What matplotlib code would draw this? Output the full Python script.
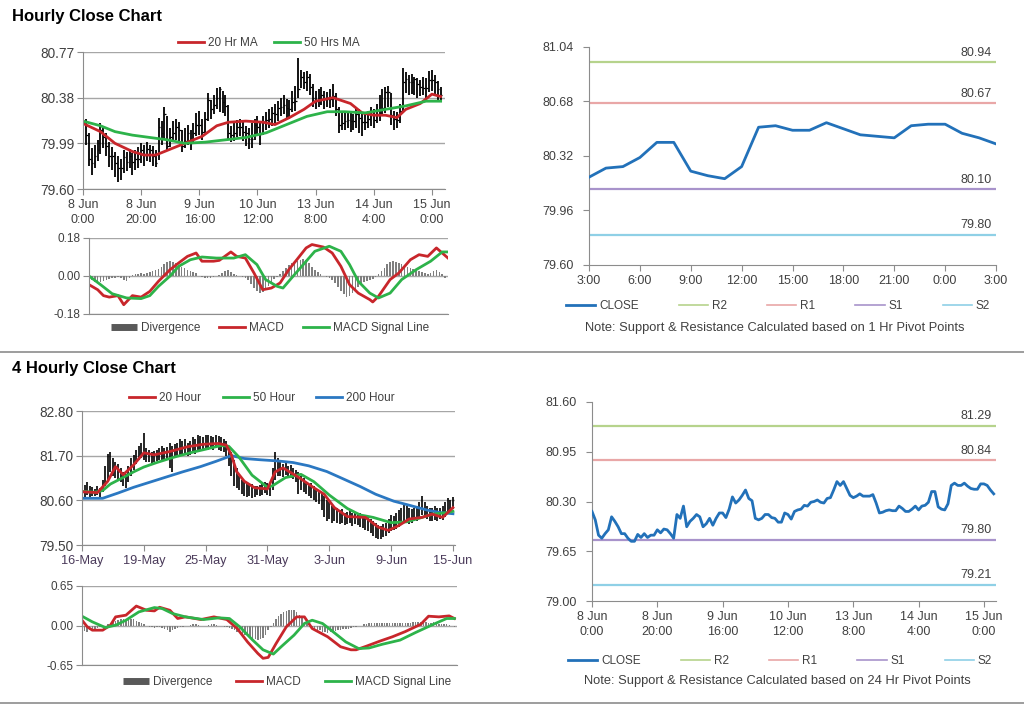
import matplotlib
matplotlib.use('Agg')
import matplotlib.pyplot as plt
from matplotlib.lines import Line2D
from matplotlib.ticker import FormatStrFormatter

plt.rcParams['font.family'] = ['Liberation Sans', 'DejaVu Sans']

# ---- hourly data (8 Jun 0:00 -> 15 Jun 3:00), one value per hour ----
hr_close = [80.17, 80.06, 79.86, 79.82, 79.88, 79.93, 80.10, 80.04, 79.97, 79.88,
            79.88, 79.82, 79.78, 79.78, 79.87, 79.83, 79.88, 79.83, 79.86, 79.86,
            79.93, 79.89, 79.94, 79.93, 79.88, 79.82, 80.13, 80.08, 80.24, 79.97,
            80.04, 80.08, 80.13, 80.10, 79.97, 80.01, 80.08, 79.99, 80.08, 80.15,
            80.15, 80.09, 80.20, 80.36, 80.28, 80.32, 80.38, 80.45, 80.34, 80.31,
            80.08, 80.06, 80.08, 80.13, 80.13, 80.09, 80.08, 80.03, 80.03, 80.15,
            80.13, 80.07, 80.17, 80.19, 80.20, 80.25, 80.24, 80.29, 80.30, 80.32,
            80.29, 80.28, 80.34, 80.35, 80.45, 80.56, 80.51, 80.56, 80.47, 80.38,
            80.35, 80.37, 80.40, 80.37, 80.37, 80.37, 80.39, 80.28, 80.15, 80.16,
            80.18, 80.19, 80.18, 80.18, 80.24, 80.21, 80.17, 80.17, 80.20, 80.24,
            80.19, 80.24, 80.25, 80.29, 80.43, 80.43, 80.23, 80.20, 80.19, 80.27,
            80.51, 80.54, 80.51, 80.51, 80.54, 80.50, 80.47, 80.46, 80.46, 80.53,
            80.53, 80.51, 80.45, 80.40]
hr_high = [80.29, 80.20, 80.08, 79.95, 79.98, 80.02, 80.16, 80.13, 80.08, 80.00,
           79.96, 79.92, 79.88, 79.86, 79.93, 79.92, 79.94, 79.91, 79.93, 79.96,
           79.99, 79.98, 80.00, 79.98, 79.97, 79.93, 80.21, 80.18, 80.30, 80.22,
           80.12, 80.18, 80.20, 80.17, 80.10, 80.12, 80.15, 80.10, 80.16, 80.25,
           80.27, 80.20, 80.26, 80.42, 80.36, 80.40, 80.46, 80.47, 80.44, 80.40,
           80.32, 80.14, 80.16, 80.19, 80.20, 80.17, 80.14, 80.12, 80.16, 80.20,
           80.22, 80.16, 80.22, 80.26, 80.28, 80.30, 80.33, 80.35, 80.38, 80.40,
           80.37, 80.36, 80.44, 80.48, 80.72, 80.62, 80.60, 80.61, 80.58, 80.50,
           80.44, 80.45, 80.47, 80.44, 80.43, 80.45, 80.50, 80.42, 80.30, 80.25,
           80.26, 80.27, 80.26, 80.24, 80.29, 80.28, 80.24, 80.25, 80.27, 80.30,
           80.28, 80.33, 80.40, 80.45, 80.47, 80.48, 80.42, 80.27, 80.26, 80.33,
           80.63, 80.60, 80.57, 80.58, 80.56, 80.55, 80.53, 80.56, 80.55, 80.61,
           80.62, 80.57, 80.52, 80.47]
hr_low = [80.09, 79.98, 79.80, 79.72, 79.78, 79.84, 79.90, 79.95, 79.88, 79.79,
          79.76, 79.70, 79.66, 79.68, 79.74, 79.75, 79.78, 79.72, 79.76, 79.78,
          79.82, 79.80, 79.84, 79.83, 79.80, 79.79, 79.85, 79.98, 80.02, 79.93,
          79.96, 80.00, 80.02, 80.00, 79.92, 79.95, 79.98, 79.93, 80.00, 80.05,
          80.06, 80.02, 80.08, 80.18, 80.20, 80.24, 80.28, 80.26, 80.25, 80.22,
          80.03, 80.00, 80.01, 80.04, 80.05, 80.01, 79.97, 79.94, 79.95, 80.02,
          80.05, 79.98, 80.06, 80.10, 80.12, 80.14, 80.16, 80.18, 80.22, 80.24,
          80.20, 80.20, 80.26, 80.27, 80.38, 80.46, 80.45, 80.44, 80.40, 80.30,
          80.28, 80.30, 80.32, 80.28, 80.30, 80.29, 80.30, 80.22, 80.08, 80.10,
          80.10, 80.12, 80.09, 80.10, 80.12, 80.08, 80.05, 80.10, 80.12, 80.14,
          80.12, 80.16, 80.18, 80.22, 80.25, 80.30, 80.15, 80.10, 80.12, 80.16,
          80.25, 80.42, 80.40, 80.41, 80.40, 80.38, 80.39, 80.40, 80.37, 80.43,
          80.44, 80.40, 80.36, 80.34]
hr_x_ticks = ['8 Jun\n0:00', '8 Jun\n20:00', '9 Jun\n16:00', '10 Jun\n12:00',
              '13 Jun\n8:00', '14 Jun\n4:00', '15 Jun\n0:00']

hr_ma20_x = [0, 6, 11, 17, 21, 25, 30, 35, 41, 46, 50, 56, 62, 66, 71, 76, 80, 86,
             92, 96, 100, 104, 108, 111, 116, 120, 123]
hr_ma20 = [80.16, 80.09, 79.99, 79.92, 79.89, 79.89, 79.94, 79.99, 80.05, 80.14,
           80.17, 80.18, 80.17, 80.15, 80.21, 80.28, 80.35, 80.38, 80.33, 80.25,
           80.23, 80.23, 80.21, 80.28, 80.33, 80.41, 80.39]
hr_ma50_x = [0, 6, 11, 17, 23, 29, 35, 42, 49, 56, 63, 70, 77, 84, 90, 97, 104,
             111, 118, 123]
hr_ma50 = [80.18, 80.14, 80.09, 80.06, 80.04, 80.02, 79.99, 80.00, 80.02, 80.04,
           80.08, 80.15, 80.22, 80.26, 80.26, 80.25, 80.28, 80.31, 80.35, 80.35]

hr_macd_x = [0, 3, 5, 7, 10, 12, 15, 18, 21, 24, 28, 31, 34, 37, 39, 43, 45, 49,
             51, 54, 57, 60, 63, 66, 69, 72, 75, 77, 81, 84, 87, 90, 93, 97, 98,
             100, 104, 107, 111, 114, 117, 120, 122, 124]
hr_macd = [-0.041, -0.065, -0.093, -0.10, -0.093, -0.136, -0.093, -0.10, -0.073,
           -0.025, 0.030, 0.062, 0.093, 0.109, 0.07, 0.07, 0.074, 0.114, 0.093,
           0.085, 0.014, -0.065, -0.057, -0.033, 0.030, 0.081, 0.133, 0.149,
           0.137, 0.109, 0.046, -0.041, -0.081, -0.112, -0.123, -0.096, -0.017,
           0.014, 0.077, 0.101, 0.093, 0.133, 0.109, 0.085]
hr_signal_x = [0, 4, 8, 13, 18, 21, 24, 28, 31, 35, 39, 44, 50, 54, 58, 61, 65, 67,
               70, 74, 78, 83, 87, 90, 93, 97, 100, 104, 108, 113, 118, 122, 124]
hr_signal = [0.0, -0.041, -0.084, -0.104, -0.107, -0.093, -0.049, 0.0, 0.046,
             0.077, 0.09, 0.085, 0.085, 0.101, 0.054, -0.017, -0.049, -0.057,
             -0.009, 0.054, 0.117, 0.141, 0.117, 0.054, -0.025, -0.081, -0.104,
             -0.081, -0.017, 0.030, 0.070, 0.114, 0.114]
hr_div = [-0.01, -0.02, -0.03, -0.03, -0.03, -0.025, -0.02, -0.015,
          -0.01, -0.01, -0.005, -0.01, -0.02, -0.025, -0.01,
          0.005, 0.01, 0.01, 0.015, 0.01, 0.015, 0.02,
          0.025, 0.03, 0.035, 0.045, 0.055, 0.065, 0.07, 0.065,
          0.06, 0.05, 0.045, 0.04, 0.03, 0.025, 0.02, 0.015,
          0.0, -0.005, -0.01, -0.01, -0.008, -0.005, 0.0, 0.005,
          0.015, 0.025, 0.03, 0.02, 0.01, 0.005, 0.0, -0.005,
          -0.01, -0.02, -0.04, -0.055, -0.07, -0.08, -0.075, -0.06,
          -0.045, -0.03, -0.015, -0.005, 0.01, 0.025,
          0.04, 0.05, 0.06, 0.065, 0.07, 0.075, 0.08, 0.075,
          0.06, 0.045, 0.03, 0.02, 0.01, 0.0, -0.005, -0.01,
          -0.02, -0.035, -0.05, -0.07, -0.085, -0.1, -0.095, -0.08,
          -0.065, -0.05, -0.04, -0.03, -0.025, -0.02, -0.015, -0.005,
          0.01, 0.025, 0.04, 0.055, 0.065, 0.07, 0.065, 0.06,
          0.055, 0.05, 0.045, 0.04, 0.035, 0.03, 0.025, 0.02,
          0.015, 0.01, 0.015, 0.025, 0.03, 0.02, 0.01, -0.01]

# ---- last 24 hours close with 1 Hr pivots ----
p1_labels = ['3:00', '6:00', '9:00', '12:00', '15:00', '18:00', '21:00', '0:00', '3:00']
p1_close = [80.18, 80.24, 80.25, 80.31, 80.41, 80.41, 80.22, 80.19, 80.17, 80.25,
            80.51, 80.52, 80.49, 80.49, 80.54, 80.50, 80.46, 80.45, 80.44, 80.52,
            80.53, 80.53, 80.47, 80.44, 80.40]
p1_levels = {'R2': 80.94, 'R1': 80.67, 'S1': 80.10, 'S2': 79.80}
p24_levels = {'R2': 81.29, 'R1': 80.84, 'S1': 79.80, 'S2': 79.21}

# ---- 4 hourly data (16 May -> 15 Jun), one value per bar ----
h4_high = [81.00, 80.98, 81.05, 80.95, 80.92, 80.88, 80.95, 80.90, 81.10, 81.45,
           81.75, 81.80, 81.65, 81.55, 81.50, 81.40, 81.30, 81.25, 81.45, 81.65,
           81.72, 81.85, 81.95, 82.00, 82.25, 81.88, 81.85, 81.80, 81.82, 81.85,
           81.88, 81.95, 81.90, 81.92, 82.00, 81.95, 81.98, 82.00, 82.10, 82.05,
           82.12, 82.00, 82.05, 82.15, 82.10, 82.20, 82.18, 82.15, 82.22, 82.20,
           82.18, 82.15, 82.20, 82.18, 82.15, 82.10, 82.05, 81.95, 81.80, 81.60,
           81.40, 81.20, 81.10, 81.05, 81.00, 80.98, 81.00, 80.95, 80.95, 80.98,
           81.00, 81.05, 81.02, 80.95, 81.40, 81.80, 81.65, 81.55, 81.50, 81.52,
           81.45, 81.48, 81.40, 81.35, 81.30, 81.20, 81.15, 81.05, 81.00, 81.02,
           80.95, 80.90, 80.85, 80.75, 80.70, 80.60, 80.55, 80.45, 80.40, 80.42,
           80.35, 80.38, 80.30, 80.32, 80.35, 80.30, 80.32, 80.28, 80.30, 80.25,
           80.22, 80.18, 80.15, 80.10, 80.05, 80.00, 79.98, 80.02, 80.05, 80.15,
           80.25, 80.22, 80.30, 80.35, 80.40, 80.48, 80.45, 80.40, 80.38, 80.42,
           80.45, 80.55, 80.70, 80.55, 80.45, 80.40, 80.42, 80.45, 80.40, 80.42,
           80.45, 80.55, 80.65, 80.60, 80.68]
h4_low = [80.70, 80.66, 80.72, 80.68, 80.70, 80.70, 80.72, 80.69, 80.80, 80.95,
          81.10, 81.30, 81.20, 81.15, 81.10, 81.05, 80.95, 80.90, 81.05, 81.20,
          81.35, 81.50, 81.60, 81.65, 81.60, 81.55, 81.55, 81.52, 81.55, 81.58,
          81.60, 81.55, 81.60, 81.62, 81.40, 81.30, 81.65, 81.70, 81.72, 81.70,
          81.75, 81.68, 81.72, 81.78, 81.75, 81.85, 81.85, 81.82, 81.88, 81.85,
          81.88, 81.85, 81.90, 81.85, 81.82, 81.80, 81.70, 81.45, 81.20, 80.95,
          80.90, 80.85, 80.75, 80.70, 80.68, 80.70, 80.65, 80.68, 80.72, 80.70,
          80.72, 80.78, 80.72, 80.70, 80.85, 81.10, 81.20, 81.20, 81.18, 81.22,
          81.20, 81.15, 81.12, 81.05, 80.75, 80.85, 80.80, 80.75, 80.70, 80.65,
          80.60, 80.55, 80.50, 80.35, 80.20, 80.10, 80.15, 80.05, 80.08, 80.05,
          80.02, 80.05, 80.00, 80.02, 80.05, 79.98, 80.02, 80.00, 79.95, 79.92,
          79.88, 79.85, 79.80, 79.72, 79.68, 79.66, 79.65, 79.70, 79.72, 79.80,
          79.85, 79.88, 79.90, 79.95, 80.00, 80.05, 80.05, 80.02, 80.05, 80.08,
          80.10, 80.15, 80.25, 80.20, 80.15, 80.10, 80.08, 80.12, 80.10, 80.15,
          80.12, 80.20, 80.30, 80.35, 80.38]
h4_x_ticks = ['16-May', '19-May', '25-May', '31-May', '3-Jun', '9-Jun', '15-Jun']

h4_ma20_x = [0, 6, 10, 13, 16, 20, 24, 28, 34, 41, 47, 53, 56, 58, 60, 63, 67, 72,
             75, 78, 84, 90, 94, 98, 103, 110, 115, 119, 123, 127, 132, 136, 140, 144]
h4_ma20 = [80.81, 80.79, 81.07, 81.43, 81.23, 81.47, 81.77, 81.72, 81.80, 81.92,
           81.98, 82.00, 81.96, 81.72, 81.31, 81.07, 80.91, 80.88, 81.30, 81.40,
           81.17, 80.91, 80.75, 80.42, 80.20, 80.18, 79.94, 79.86, 79.98, 80.14,
           80.18, 80.26, 80.18, 80.42]
h4_ma50_x = [0, 5, 8, 11, 15, 20, 24, 29, 35, 42, 48, 54, 57, 61, 66, 72, 74, 79,
             85, 90, 96, 103, 108, 113, 120, 126, 131, 136, 142, 144]
h4_ma50 = [80.82, 80.80, 80.84, 81.00, 81.13, 81.30, 81.42, 81.53, 81.65, 81.77,
           81.86, 81.95, 81.93, 81.66, 81.22, 80.92, 80.96, 81.16, 81.24, 81.06,
           80.73, 80.40, 80.24, 80.18, 80.05, 80.07, 80.16, 80.26, 80.30, 80.33]
h4_ma200_x = [0, 8, 14, 20, 26, 33, 39, 46, 52, 58, 63, 69, 76, 82, 88, 95, 101,
              108, 114, 121, 127, 134, 139, 144]
h4_ma200 = [80.65, 80.65, 80.78, 80.92, 81.04, 81.18, 81.30, 81.43, 81.56, 81.70,
            81.63, 81.60, 81.57, 81.53, 81.45, 81.31, 81.14, 80.94, 80.75, 80.58,
            80.48, 80.36, 80.30, 80.27]

h4_macd_x = [0, 2, 4, 8, 11, 13, 17, 21, 25, 28, 30, 34, 37, 40, 46, 51, 56, 60,
             64, 68, 70, 72, 75, 79, 83, 86, 89, 95, 100, 104, 106, 110, 115, 120,
             125, 131, 134, 138, 142, 144]
h4_macd = [0.087, -0.02, -0.077, -0.077, 0.005, 0.142, 0.17, 0.32, 0.25, 0.24,
           0.30, 0.25, 0.115, 0.142, 0.098, 0.142, 0.098, -0.049, -0.27, -0.46,
           -0.54, -0.525, -0.30, -0.022, 0.142, 0.142, -0.049, -0.186, -0.35,
           -0.40, -0.40, -0.34, -0.26, -0.186, -0.10, 0.02, 0.153, 0.142, 0.158,
           0.115]
h4_signal_x = [0, 4, 9, 13, 17, 22, 28, 31, 35, 40, 47, 53, 57, 61, 66, 70, 74,
               77, 82, 86, 89, 93, 97, 102, 107, 111, 116, 123, 129, 136, 141, 144]
h4_signal = [0.153, 0.06, -0.033, 0.005, 0.087, 0.224, 0.295, 0.279, 0.197, 0.142,
             0.098, 0.126, 0.115, -0.022, -0.24, -0.40, -0.47, -0.35, -0.158,
             0.033, 0.087, 0.033, -0.10, -0.27, -0.38, -0.37, -0.31, -0.24,
             -0.115, 0.022, 0.115, 0.115]
h4_div = [-0.06, -0.09, -0.1, -0.08, -0.06, -0.05, -0.04, -0.03,
          -0.02, 0.0, 0.02, 0.04, 0.06, 0.08, 0.09, 0.1,
          0.1, 0.09, 0.1, 0.11, 0.1, 0.08, 0.06, 0.04,
          0.02, 0.0, -0.02, -0.03, -0.04, -0.03, -0.02, -0.04,
          -0.06, -0.08, -0.1, -0.08, -0.06, -0.04, -0.03, -0.02,
          -0.01, 0.0, 0.01, 0.02, 0.02, 0.01, 0.0, -0.01,
          0.0, 0.01, 0.02, 0.02, 0.01, 0.0, -0.01, -0.02,
          -0.02, -0.04, -0.06, -0.08, -0.1, -0.12, -0.14, -0.16,
          -0.18, -0.2, -0.22, -0.23, -0.24, -0.23, -0.2, -0.15,
          -0.08, -0.02, 0.04, 0.1, 0.15, 0.19, 0.22, 0.24,
          0.25, 0.26, 0.25, 0.22, 0.18, 0.12, 0.06, 0.02,
          -0.01, -0.03, -0.05, -0.07, -0.08, -0.1, -0.11, -0.12,
          -0.11, -0.1, -0.09, -0.08, -0.07, -0.06, -0.06, -0.05,
          -0.04, -0.03, -0.02, -0.01, 0.0, 0.02, 0.03, 0.04,
          0.04, 0.04, 0.04, 0.04, 0.04, 0.04, 0.04, 0.04,
          0.04, 0.04, 0.04, 0.04, 0.04, 0.04, 0.04, 0.04,
          0.05, 0.05, 0.05, 0.06, 0.06, 0.05, 0.04, 0.04,
          0.05, 0.04, 0.03, 0.03, 0.02, 0.02, 0.01, 0.0,
          -0.02]

RED = '#C8262B'
GREEN = '#2DB34A'
BLUE = '#2B78C2'
CLOSE_C = '#2271B9'
GRID = '#A6A6A6'
AXC = '#8C8C8C'
TXT = '#404040'
LEVEL_C = {'R2': '#B6D38C', 'R1': '#E9A7A7', 'S1': '#A893CB', 'S2': '#8FD0E6'}
FS = 8.5

fig = plt.figure(figsize=(10.24, 7.06), dpi=100)


def box(x0, y0, x1, y1):
    return [x0 / 1024, 1 - y1 / 706, (x1 - x0) / 1024, (y1 - y0) / 706]


def fpos(x, y):
    return (x / 1024, 1 - y / 706)


def style(ax, ysize=FS, xsize=FS):
    for s in ['top', 'right']:
        ax.spines[s].set_visible(False)
    ax.spines['left'].set_color(AXC)
    ax.spines['bottom'].set_color(AXC)
    ax.tick_params(colors=AXC, labelcolor=TXT, length=4)
    ax.tick_params(axis='y', labelsize=ysize, pad=2)
    ax.tick_params(axis='x', labelsize=xsize)
    ax.yaxis.grid(True, color=GRID, lw=1)
    ax.set_axisbelow(True)
    ax.yaxis.set_major_formatter(FormatStrFormatter('%.2f'))


def legend(handles, x, y, colsp=1.5):
    fig.legend(handles=handles, loc='center', bbox_to_anchor=fpos(x, y), ncol=len(handles),
               frameon=False, fontsize=FS, handlelength=2.2, handletextpad=0.35,
               columnspacing=colsp, labelcolor=TXT)


def div_handle():
    return Line2D([], [], color='#595959', lw=5, solid_capstyle='butt', label='Divergence')


# titles and separators
fig.text(12 / 1024, 1 - 16 / 706, 'Hourly Close Chart', fontsize=12, fontweight='bold', va='center')
fig.text(12 / 1024, 1 - 369 / 706, '4 Hourly Close Chart', fontsize=12, fontweight='bold', va='center')
for y in (352, 703):
    fig.add_artist(Line2D([0, 1], [1 - y / 706] * 2, transform=fig.transFigure, color='#8C8C8C', lw=1.2))

# ---- hourly bars with MAs ----
hours = list(range(len(hr_close)))
ax = fig.add_axes(box(83, 52, 445, 189))
style(ax, 9.8, 9)
ax.vlines(hours, hr_low, hr_high, color='black', lw=1.3)
ax.hlines(hr_close, hours, [h + 0.6 for h in hours], color='black', lw=0.9)
ax.plot(hr_ma20_x, hr_ma20, color=RED, lw=2)
ax.plot(hr_ma50_x, hr_ma50, color=GREEN, lw=2)
ax.set_xlim(0, 124.5)
ax.set_ylim(79.60, 80.77)
ax.set_yticks([79.60, 79.99, 80.38, 80.77])
ax.set_xticks(range(0, 121, 20))
ax.set_xticklabels(hr_x_ticks, linespacing=1.25)
legend([Line2D([], [], color=RED, lw=2, label='20 Hr MA'),
        Line2D([], [], color=GREEN, lw=2, label='50 Hrs MA')], 269, 43, 1.4)

# ---- hourly MACD ----
ax = fig.add_axes(box(89, 238, 448, 314))
style(ax)
ax.bar(hours, hr_div, width=0.55, color='#7F7F7F')
ax.plot(hr_macd_x, hr_macd, color=RED, lw=2)
ax.plot(hr_signal_x, hr_signal, color=GREEN, lw=2)
ax.set_xlim(0, 124)
ax.set_ylim(-0.18, 0.18)
ax.set_yticks([-0.18, 0.0, 0.18])
ax.set_xticks([])
legend([div_handle(), Line2D([], [], color=RED, lw=2, label='MACD'),
        Line2D([], [], color=GREEN, lw=2, label='MACD Signal Line')], 270, 328, 1.6)


def pivot_chart(ax, xs, close, levels):
    for s in ['top', 'right']:
        ax.spines[s].set_visible(False)
    ax.spines['left'].set_color(AXC)
    ax.spines['bottom'].set_color(AXC)
    ax.tick_params(colors=AXC, labelcolor=TXT, labelsize=FS + 0.5, length=4)
    ax.tick_params(axis='y', pad=7)
    ax.yaxis.set_major_formatter(FormatStrFormatter('%.2f'))
    ax.plot(xs, close, color=CLOSE_C, lw=2, zorder=3)
    for name, v in levels.items():
        ax.axhline(v, color=LEVEL_C[name], lw=1.6)
        ax.annotate(f'{v:.2f}', xy=(1, v), xycoords=('axes fraction', 'data'),
                    xytext=(-3, 2.5), textcoords='offset points', ha='right', va='bottom',
                    fontsize=FS + 0.5, color=TXT)


def pivot_legend(x, y):
    hs = [Line2D([], [], color=CLOSE_C, lw=2, label='CLOSE')]
    hs += [Line2D([], [], color=LEVEL_C[n], lw=1.2, label=n) for n in ['R2', 'R1', 'S1', 'S2']]
    fig.legend(handles=hs, loc='center', bbox_to_anchor=fpos(x, y), ncol=5, frameon=False,
               fontsize=FS, handlelength=2.5, handletextpad=0.3, columnspacing=3.4,
               labelcolor=TXT)


# ---- last 24 hours close with 1 Hr pivots ----
ax = fig.add_axes(box(589, 47, 996, 265))
pivot_chart(ax, range(len(p1_close)), p1_close, p1_levels)
ax.set_xlim(0, 24)
ax.set_ylim(79.60, 81.04)
ax.set_yticks([79.60, 79.96, 80.32, 80.68, 81.04])
ax.set_xticks(range(0, 25, 3))
ax.set_xticklabels(p1_labels)
pivot_legend(778, 306)
fig.text(*fpos(775, 328), 'Note: Support & Resistance Calculated based on 1 Hr Pivot Points',
         ha='center', va='center', fontsize=9.3, color=TXT)

# ---- 4 hourly bars with MAs ----
bars = list(range(len(h4_high)))
ax = fig.add_axes(box(82, 411, 455, 545))
style(ax, 9.8, 9.2)
ax.vlines(bars, h4_low, h4_high, color='black', lw=1.2)
ax.plot(h4_ma200_x, h4_ma200, color=BLUE, lw=2)
ax.plot(h4_ma50_x, h4_ma50, color=GREEN, lw=2)
ax.plot(h4_ma20_x, h4_ma20, color=RED, lw=2)
ax.set_xlim(0, 144.8)
ax.set_ylim(79.50, 82.80)
ax.set_yticks([79.50, 80.60, 81.70, 82.80])
ax.set_xticks(range(0, 145, 24))
ax.set_xticklabels(h4_x_ticks, color='#4A3A5A')
legend([Line2D([], [], color=RED, lw=2, label='20 Hour'),
        Line2D([], [], color=GREEN, lw=2, label='50 Hour'),
        Line2D([], [], color=BLUE, lw=2, label='200 Hour')], 262, 398, 1.8)

# ---- 4 hourly MACD ----
ax = fig.add_axes(box(82, 586, 457, 665))
style(ax)
ax.bar(bars, h4_div, width=0.55, color='#7F7F7F')
ax.plot(h4_macd_x, h4_macd, color=RED, lw=2)
ax.plot(h4_signal_x, h4_signal, color=GREEN, lw=2)
ax.set_xlim(0, 145)
ax.set_ylim(-0.65, 0.65)
ax.set_yticks([-0.65, 0.0, 0.65])
ax.set_xticks([])
legend([div_handle(), Line2D([], [], color=RED, lw=2, label='MACD'),
        Line2D([], [], color=GREEN, lw=2, label='MACD Signal Line')], 287, 682, 2.0)

# ---- hourly close with 24 Hr pivots ----
ax = fig.add_axes(box(592, 402, 996, 601))
pivot_chart(ax, hours, hr_close, p24_levels)
ax.set_xlim(0, 123.7)
ax.set_ylim(79.00, 81.60)
ax.set_yticks([79.00, 79.65, 80.30, 80.95, 81.60])
ax.set_xticks(range(0, 121, 20))
ax.set_xticklabels(hr_x_ticks, linespacing=1.25)
pivot_legend(780, 661)
fig.text(*fpos(777, 681), 'Note: Support & Resistance Calculated based on 24 Hr Pivot Points',
         ha='center', va='center', fontsize=9.3, color=TXT)

fig.savefig('out.png', dpi=100)
